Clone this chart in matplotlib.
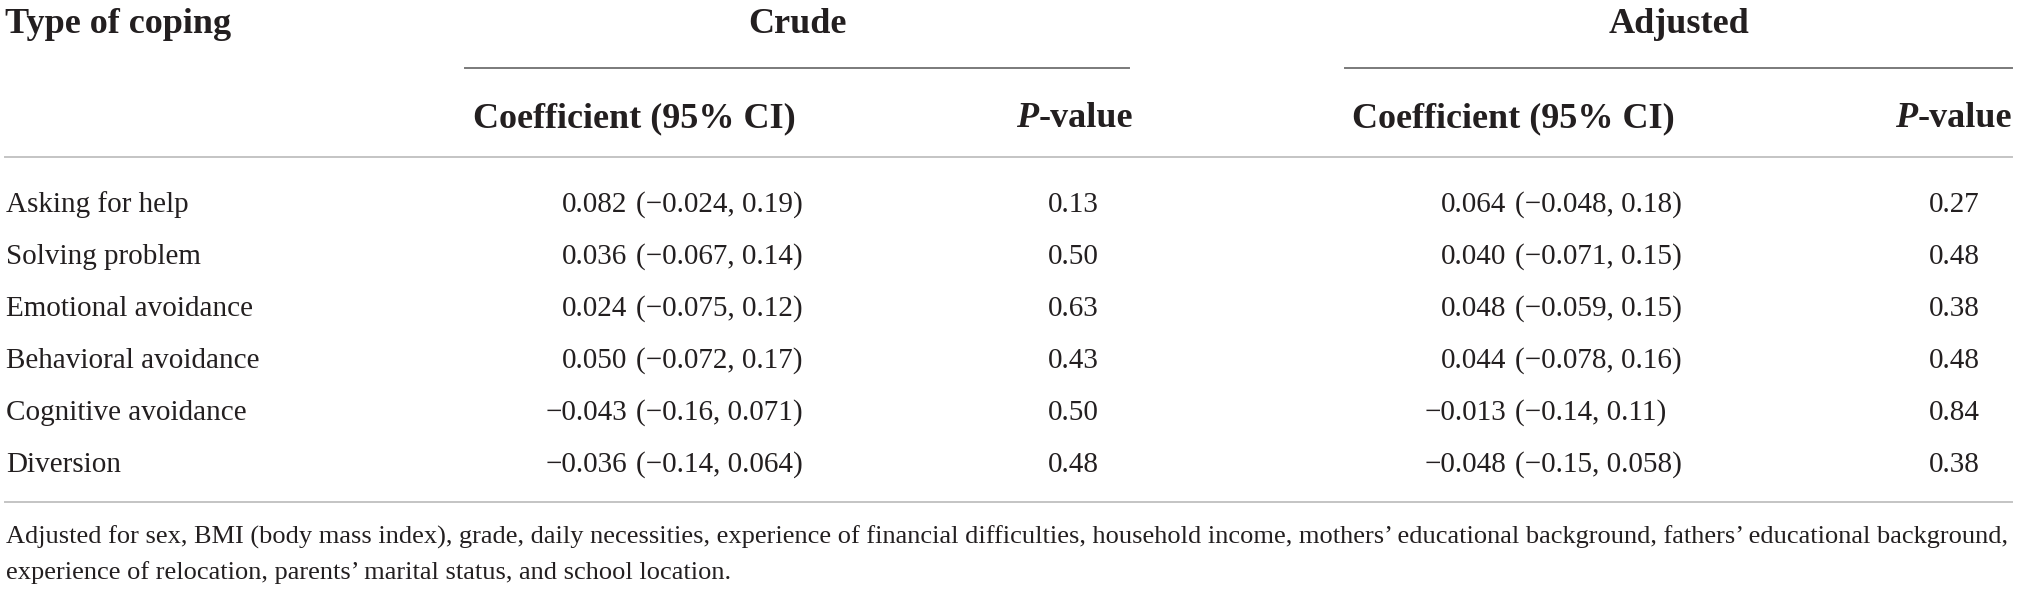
import matplotlib
matplotlib.use("Agg")
import matplotlib.pyplot as plt
from matplotlib.lines import Line2D

plt.rcParams['font.family'] = ['Liberation Serif', 'DejaVu Serif']

# table content
coping_types = ["Asking for help", "Solving problem", "Emotional avoidance",
                "Behavioral avoidance", "Cognitive avoidance", "Diversion"]
crude_coef = ["0.082", "0.036", "0.024", "0.050", "\u22120.043", "\u22120.036"]
crude_ci = ["(\u22120.024, 0.19)", "(\u22120.067, 0.14)", "(\u22120.075, 0.12)",
            "(\u22120.072, 0.17)", "(\u22120.16, 0.071)", "(\u22120.14, 0.064)"]
crude_p = ["0.13", "0.50", "0.63", "0.43", "0.50", "0.48"]
adj_coef = ["0.064", "0.040", "0.048", "0.044", "\u22120.013", "\u22120.048"]
adj_ci = ["(\u22120.048, 0.18)", "(\u22120.071, 0.15)", "(\u22120.059, 0.15)",
          "(\u22120.078, 0.16)", "(\u22120.14, 0.11)", "(\u22120.15, 0.058)"]
adj_p = ["0.27", "0.48", "0.38", "0.48", "0.84", "0.38"]
footnote = ["Adjusted for sex, BMI (body mass index), grade, daily necessities, "
            "experience of financial difficulties, household income, mothers\u2019 "
            "educational background, fathers\u2019 educational background,",
            "experience of relocation, parents\u2019 marital status, and school location."]

W, H = 2019, 592
fig = plt.figure(figsize=(W / 100, H / 100), dpi=100)
fig.patch.set_facecolor('white')
ink = '#231f20'


def tx(x, y, s, **kw):
    # x from left, y (baseline) from top, in pixels
    kw.setdefault('color', ink)
    kw.setdefault('va', 'baseline')
    return fig.text(x / W, 1 - y / H, s, **kw)


def hline(x0, x1, y, color, lw=1.4):
    fig.add_artist(Line2D([x0 / W, x1 / W], [1 - y / H, 1 - y / H],
                          color=color, lw=lw, transform=fig.transFigure))


hsize = 26
bsize = 21

# header
tx(5, 33, "Type of coping", fontsize=hsize, fontweight='bold')
tx(797, 33, "Crude", fontsize=hsize, fontweight='bold', ha='center')
tx(1679, 33, "Adjusted", fontsize=hsize, fontweight='bold', ha='center')
hline(465, 1129, 68, '#7a7a7a')
hline(1345, 2012, 68, '#7a7a7a')

tx(634, 127, "Coefficient (95% CI)", fontsize=hsize, fontweight='bold', ha='center')
tx(1513, 127, "Coefficient (95% CI)", fontsize=hsize, fontweight='bold', ha='center')

# "P-value" with italic P, right aligned
rend = fig.canvas.get_renderer()
for xr in (1133, 2012):
    rest = tx(xr, 127, "-value", fontsize=hsize, fontweight='bold', ha='right')
    wv = rest.get_window_extent(renderer=rend).width
    tx(xr - wv, 127, "P", fontsize=hsize, fontweight='bold', fontstyle='italic', ha='right')
hline(5, 2012, 157, '#c4c4c4')

# body rows
y0, dy = 212, 52
for i, name in enumerate(coping_types):
    y = y0 + i * dy
    tx(6, y, name, fontsize=bsize)
    tx(627, y, crude_coef[i], fontsize=bsize, ha='right')
    tx(636, y, crude_ci[i], fontsize=bsize, ha='left')
    tx(1073, y, crude_p[i], fontsize=bsize, ha='center')
    tx(1506, y, adj_coef[i], fontsize=bsize, ha='right')
    tx(1515, y, adj_ci[i], fontsize=bsize, ha='left')
    tx(1954, y, adj_p[i], fontsize=bsize, ha='center')

hline(5, 2012, 502, '#c4c4c4')

# footnote, sized to span the table width
fn = tx(6, 544, footnote[0], fontsize=18)
w = fn.get_window_extent(renderer=rend).width
fsize = 18 * (2007 / w)
fn.set_fontsize(fsize)
tx(6, 579, footnote[1], fontsize=fsize)

fig.savefig("out.png", dpi=100, facecolor='white')
